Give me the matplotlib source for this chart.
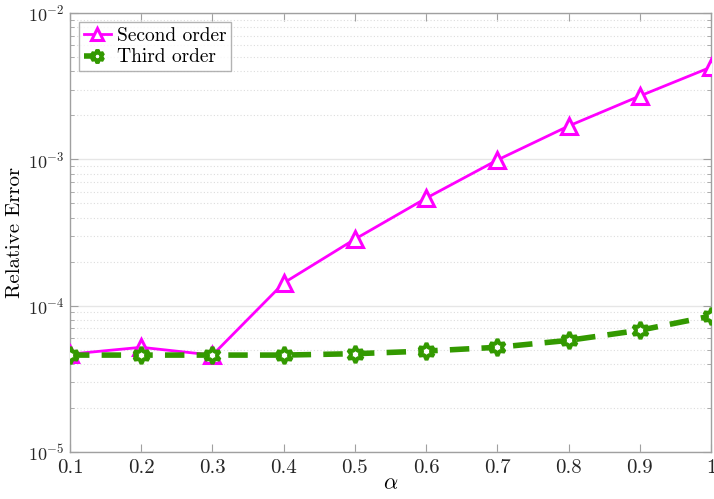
import matplotlib
matplotlib.use("Agg")
import matplotlib.pyplot as plt
import numpy as np
from matplotlib.ticker import LogLocator, FixedLocator, NullFormatter

plt.rcParams['font.family'] = 'serif'
plt.rcParams['font.serif'] = ['cmr10', 'DejaVu Serif']
plt.rcParams['mathtext.fontset'] = 'cm'
plt.rcParams['axes.formatter.use_mathtext'] = True

alpha = [0.1, 0.2, 0.3, 0.4, 0.5, 0.6, 0.7, 0.8, 0.9, 1.0]
second_order = [4.67e-5, 5.2e-5, 4.6e-5, 1.43e-4, 2.85e-4, 5.43e-4, 9.9e-4, 1.69e-3, 2.71e-3, 4.27e-3]
third_order = [4.6e-5, 4.6e-5, 4.6e-5, 4.6e-5, 4.7e-5, 4.9e-5, 5.2e-5, 5.8e-5, 6.8e-5, 8.5e-5]
xtick_labels = ['0.1', '0.2', '0.3', '0.4', '0.5', '0.6', '0.7', '0.8', '0.9', '1']

fig = plt.figure(figsize=(7.14, 4.99), dpi=100)
ax = fig.add_axes([0.098, 0.094, 0.898, 0.88])

ax.plot(alpha, second_order, color='#ff00ff', lw=2.0, marker='^', ms=11,
        mfc='white', mec='#ff00ff', mew=2.2, label='Second order', zorder=3)
ax.plot(alpha, third_order, color='#339900', lw=4.0, ls=(0, (3.5, 2.2)), marker=(6, 1, 0), ms=12,
        mfc='white', mec='#339900', mew=2.8, label='Third order', zorder=4)

ax.set_yscale('log')
ax.set_ylim(1e-5, 1e-2)
ax.set_xlim(0.1, 1.0)
ax.set_xticks(alpha)
ax.set_xticklabels(xtick_labels)
ax.yaxis.set_major_locator(LogLocator(base=10, numticks=10))
ax.yaxis.set_minor_locator(LogLocator(base=10, subs=np.arange(2, 10), numticks=20))
ax.yaxis.set_minor_formatter(NullFormatter())

ax.grid(True, which='major', axis='y', color='#e6e6e6', lw=1.0, ls='-')
ax.grid(True, which='minor', axis='y', color='#dddddd', lw=0.8, ls=(0, (1, 2)))
ax.set_axisbelow(True)

for s in ax.spines.values():
    s.set_color('#a0a0a0')
    s.set_linewidth(1.0)
ax.tick_params(axis='both', which='both', direction='in', top=True, right=True, color='#a0a0a0')
ax.tick_params(axis='both', which='major', length=6, labelcolor='#262626')
ax.tick_params(axis='x', which='major', labelsize=15, pad=5)
ax.tick_params(axis='y', which='major', labelsize=13, pad=4)
ax.tick_params(axis='y', which='minor', length=3)

ax.set_xlabel(r'$\alpha$', fontsize=16, labelpad=-2)
ax.set_ylabel('Relative Error', fontsize=15, labelpad=3)

leg = ax.legend(loc='upper left', fontsize=14, frameon=True, fancybox=False,
                edgecolor='#a0a0a0', handlelength=1.4, borderpad=0.25, labelspacing=0.2,
                handletextpad=0.3, borderaxespad=0.45, markerscale=0.8)
leg.get_frame().set_linewidth(1.0)

fig.savefig('out.png', dpi=100)
